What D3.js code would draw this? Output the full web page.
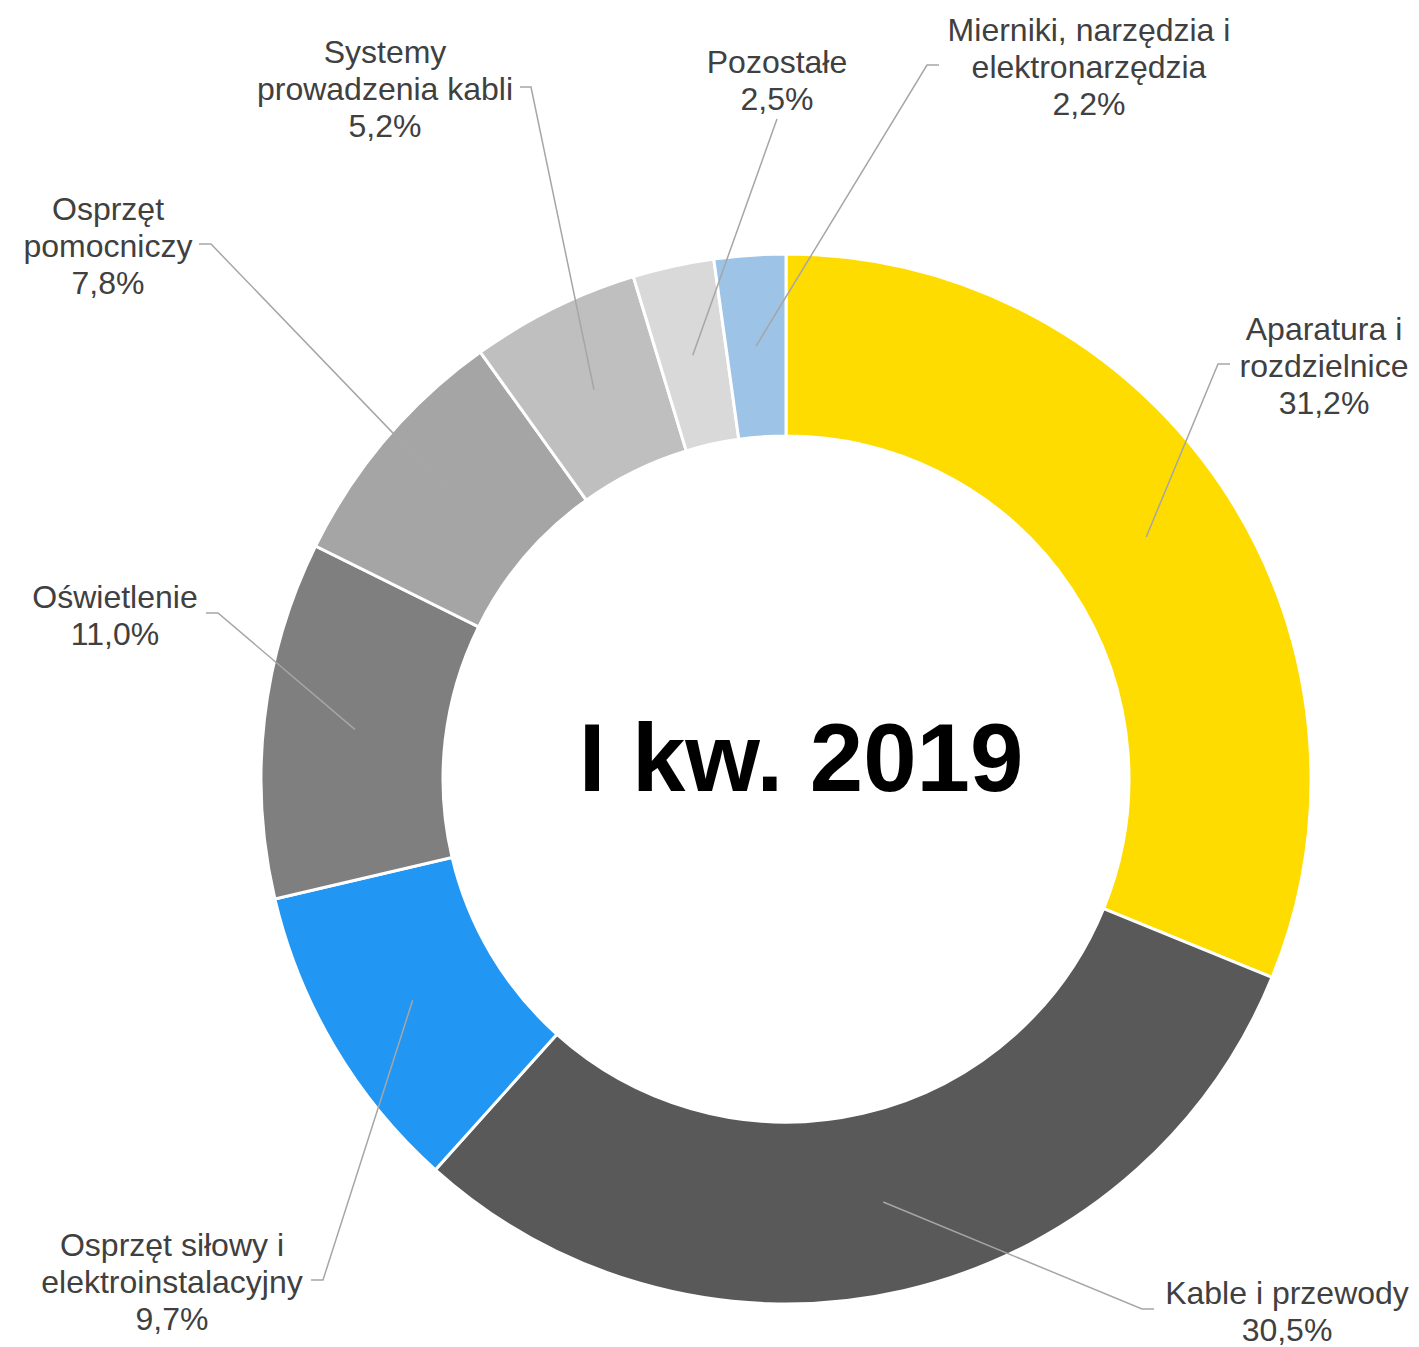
<!DOCTYPE html>
<html>
<head>
<meta charset="utf-8">
<script src="https://cdn.jsdelivr.net/npm/d3@7"></script>
<style>
  body { margin: 0; background: #fff; }
  svg { display: block; }
</style>
</head>
<body>
<script>
// data
var categories = [
  ["Aparatura i", "rozdzielnice"],
  ["Kable i przewody"],
  ["Osprzęt siłowy i", "elektroinstalacyjny"],
  ["Oświetlenie"],
  ["Osprzęt", "pomocniczy"],
  ["Systemy", "prowadzenia kabli"],
  ["Pozostałe"],
  ["Mierniki, narzędzia i", "elektronarzędzia"]
];
var values = [31.2, 30.5, 9.7, 11.0, 7.8, 5.2, 2.5, 2.2];
var valueLabels = ["31,2%", "30,5%", "9,7%", "11,0%", "7,8%", "5,2%", "2,5%", "2,2%"];
var colors = ["#FFDC00", "#595959", "#2196F3", "#7F7F7F", "#A5A5A5", "#BFBFBF", "#D9D9D9", "#9DC3E6"];
var centerTitle = "I kw. 2019";

// label layout: text centre x, box centre y, elbow x, stub end x
var labelLayout = [
  [1324, 366, 1218, 1230],
  [1287, 1311, 1142, 1154],
  [172, 1282, 323, 311],
  [115, 615, 218, 206],
  [108, 246, 211, 199],
  [385, 89, 531, 520],
  [777, 80, null, null],
  [1089, 67, 927, 939]
];

var width = 1419, height = 1347;
var cx = 786, cy = 779;
var outerR = 525, innerR = 343;
var fontSize = 32, lineH = 37;

var svg = d3.select("body").append("svg")
  .attr("width", width)
  .attr("height", height);

var g = svg.append("g").attr("transform", "translate(" + cx + "," + cy + ")");

var pie = d3.pie().sort(null).value(function(d){ return d; });
var arc = d3.arc().innerRadius(innerR).outerRadius(outerR);
var mid = d3.arc().innerRadius((innerR + outerR) / 2).outerRadius((innerR + outerR) / 2);

var arcs = pie(values);

g.selectAll("path.slice")
  .data(arcs)
  .enter().append("path")
  .attr("class", "slice")
  .attr("d", arc)
  .attr("fill", function(d, i){ return colors[i]; })
  .attr("stroke", "#fff")
  .attr("stroke-width", 3)
  .attr("stroke-linejoin", "miter");

// leader lines
arcs.forEach(function(d, i){
  var c = mid.centroid(d);
  var p0 = [cx + c[0], cy + c[1]];
  var L = labelLayout[i];
  var n = categories[i].length + 1;
  var pts;
  if (L[2] === null) {
    var bottom = L[1] + (n * lineH) / 2 + 2;
    pts = [p0, [L[0], bottom]];
  } else {
    pts = [p0, [L[2], L[1] - 2], [L[3], L[1] - 2]];
  }
  svg.append("path")
    .attr("d", d3.line()(pts))
    .attr("fill", "none")
    .attr("stroke", "#A6A6A6")
    .attr("stroke-width", 1.5);
});

// labels
categories.forEach(function(lines, i){
  var L = labelLayout[i];
  var all = lines.concat([valueLabels[i]]);
  var n = all.length;
  var first = L[1] - (n - 1) * lineH / 2 + fontSize * 0.35;
  var t = svg.append("text")
    .attr("text-anchor", "middle")
    .attr("font-family", "Liberation Sans, Arial, sans-serif")
    .attr("font-size", fontSize)
    .attr("fill", "#404040");
  all.forEach(function(s, j){
    t.append("tspan")
      .attr("x", L[0])
      .attr("y", first + j * lineH)
      .text(s);
  });
});

svg.append("text")
  .attr("x", 801)
  .attr("y", 791)
  .attr("text-anchor", "middle")
  .attr("font-family", "Liberation Sans, Arial, sans-serif")
  .attr("font-weight", "bold")
  .attr("font-size", 96)
  .attr("fill", "#000")
  .text(centerTitle);
</script>
</body>
</html>
